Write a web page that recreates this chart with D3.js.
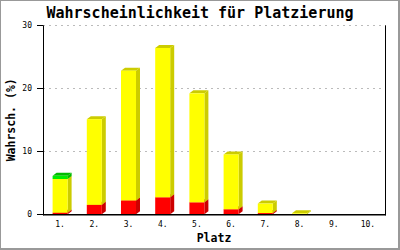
<!DOCTYPE html>
<html><head><meta charset="utf-8">
<script src="https://cdn.jsdelivr.net/npm/d3@7"></script>
<style>body{margin:0;background:#fff}svg{display:block}</style>
</head><body>
<svg id="c" width="400" height="250"></svg>
<script>
const categories = ["1.","2.","3.","4.","5.","6.","7.","8.","9.","10."];
const redVals    = [0.25, 1.5, 2.2, 2.7, 1.9, 0.8, 0.2, 0, 0, 0];
const yellowVals = [5.35, 13.6, 20.6, 23.7, 17.3, 8.7, 1.5, 0.15, 0, 0];
const greenVals  = [0.5, 0, 0, 0, 0, 0, 0, 0, 0, 0];
const yTicks = [0, 10, 20, 30];

const series = [
  {vals: redVals,    front: "#ff0000", dark: "#cc0000"},
  {vals: yellowVals, front: "#ffff00", dark: "#cccc00"},
  {vals: greenVals,  front: "#00ee00", dark: "#00bb00"}
];

const svg = d3.select("#c");
const L = 43, R = 385, T = 25.3, B = 214.3;
const x = d3.scaleBand().domain(categories).range([L, R]);
const y = d3.scaleLinear().domain([0, 30]).range([B, T]);
const dx = 4, dy = 3, bw = 15;

// frame
svg.append("rect").attr("x",0.5).attr("y",0.5).attr("width",398).attr("height",248)
  .attr("fill","none").attr("stroke","#999").attr("stroke-width",1);
svg.append("line").attr("x1",399.5).attr("x2",399.5).attr("y1",0).attr("y2",250).attr("stroke","#999");
svg.append("line").attr("x1",0).attr("x2",400).attr("y1",249.5).attr("y2",249.5).attr("stroke","#999");

// grid
svg.append("g").selectAll("line").data(yTicks.filter(d=>d>0)).join("line")
  .attr("x1",L).attr("x2",R).attr("y1",d=>Math.round(y(d))+0.5).attr("y2",d=>Math.round(y(d))+0.5)
  .attr("stroke","#bbb").attr("stroke-dasharray","2,4");

// bars
const g = svg.append("g");
categories.forEach((c,i)=>{
  let base = 0;
  const cx = x(c) + x.bandwidth()/2;
  const x0 = cx - bw/2, x1 = cx + bw/2;
  series.forEach(s=>{
    const v = s.vals[i];
    if (v <= 0) return;
    const yb = y(base), yt = y(base+v);
    g.append("polygon").attr("fill", s.dark)
      .attr("points", [[x1,yt],[x1+dx,yt-dy],[x1+dx,yb-dy],[x1,yb]].join(" "));
    g.append("polygon").attr("fill", s.dark)
      .attr("points", [[x0,yt],[x0+dx,yt-dy],[x1+dx,yt-dy],[x1,yt]].join(" "));
    g.append("rect").attr("fill", s.front).attr("x",x0).attr("y",yt).attr("width",bw).attr("height",yb-yt);
    base += v;
  });
});

// axes
svg.append("line").attr("x1",L+0.5).attr("x2",L+0.5).attr("y1",T).attr("y2",B+1).attr("stroke","#000");
svg.append("line").attr("x1",R+0.5).attr("x2",R+0.5).attr("y1",T).attr("y2",B+1).attr("stroke","#000");
svg.append("line").attr("x1",L).attr("x2",R+1).attr("y1",B+0.5).attr("y2",B+0.5).attr("stroke","#000").attr("stroke-width",1.5);

const yAxis = svg.append("g");
yAxis.selectAll("line").data(yTicks).join("line")
  .attr("x1",L-6).attr("x2",L).attr("y1",d=>Math.round(y(d))+0.5).attr("y2",d=>Math.round(y(d))+0.5).attr("stroke","#000");
yAxis.selectAll("text").data(yTicks).join("text")
  .attr("x",32).attr("y",d=>y(d)+3).attr("text-anchor","end")
  .attr("font-family","DejaVu Sans Mono").attr("font-size",8).text(d=>d);

svg.append("g").selectAll("text").data(categories).join("text")
  .attr("x",d=>x(d)+x.bandwidth()/2).attr("y",227).attr("text-anchor","middle")
  .attr("font-family","DejaVu Sans Mono").attr("font-size",8).text(d=>d);

svg.append("text").attr("x",200).attr("y",18).attr("text-anchor","middle")
  .attr("font-family","DejaVu Sans Mono").attr("font-weight","bold").attr("font-size",15)
  .text("Wahrscheinlichkeit für Platzierung");
svg.append("text").attr("x",(L+R)/2).attr("y",242).attr("text-anchor","middle")
  .attr("font-family","DejaVu Sans Mono").attr("font-weight","bold").attr("font-size",11.5)
  .text("Platz");
svg.append("text").attr("transform",`translate(15,${(T+B)/2}) rotate(-90)`).attr("text-anchor","middle")
  .attr("font-family","DejaVu Sans Mono").attr("font-weight","bold").attr("font-size",11.5)
  .text("Wahrsch. (%)");
</script>
</body></html>
